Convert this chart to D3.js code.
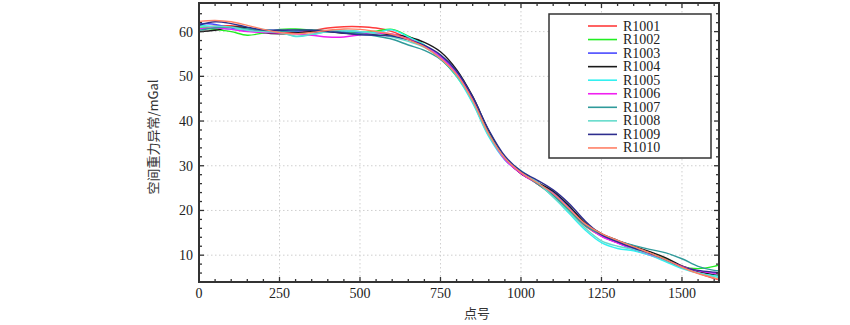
<!DOCTYPE html>
<html><head><meta charset="utf-8">
<script src="https://cdn.jsdelivr.net/npm/d3@7"></script>
<style>body{margin:0;background:#fff}svg{display:block}</style>
</head><body>
<svg id="c" width="850" height="325"></svg>
<script>
const xPoints = [0,50,100,150,200,250,300,350,400,450,500,550,600,650,700,750,800,850,900,950,1000,1050,1100,1150,1200,1250,1300,1350,1400,1450,1500,1550,1600,1615];
const seriesNames = ["R1001","R1002","R1003","R1004","R1005","R1006","R1007","R1008","R1009","R1010"];
const seriesColors = ["#ff3b3b","#22ee22","#4a4aff","#1a1a1a","#33f0f0","#f020f0","#2f9a9a","#66dccc","#2e2e8e","#ff8066"];
const R1001 = [60.8,61.2,61.3,60.8,60.0,59.8,59.8,60.2,60.8,61.1,61.1,60.8,60.0,58.5,56.8,54.0,50.5,44.2,36.8,31.5,28.3,26.0,23.2,19.8,16.5,14.3,12.8,11.5,10.2,8.8,7.2,6.0,4.8,4.5];
const R1002 = [61.0,60.5,60.0,59.2,59.7,60.5,60.6,60.3,60.0,59.8,59.8,60.1,60.5,59.0,57.0,54.0,50.0,44.5,37.0,31.6,28.5,26.0,23.5,20.0,16.8,14.3,12.8,11.6,10.4,9.2,7.5,7.0,7.5,7.8];
const R1003 = [61.8,61.6,60.8,60.2,60.2,60.3,60.0,59.8,60.0,60.2,59.8,59.4,59.0,58.2,56.8,54.5,50.8,45.0,37.2,31.4,28.4,26.2,24.0,20.8,17.0,14.3,12.8,11.2,10.0,8.8,7.2,6.4,6.0,5.8];
const R1004 = [60.0,60.3,61.0,60.8,59.8,59.5,59.7,60.0,60.0,59.6,59.4,59.4,59.3,58.8,57.6,55.5,51.5,45.5,37.8,31.8,28.2,26.3,24.3,21.0,17.2,14.8,13.3,12.0,10.8,9.4,7.6,6.4,5.6,5.5];
const R1005 = [61.5,61.0,60.5,60.6,60.5,60.0,58.9,59.3,60.0,60.2,60.0,59.8,60.4,58.8,57.0,54.0,50.0,44.0,36.5,31.3,28.5,26.2,23.0,19.3,15.6,12.8,11.5,11.0,10.0,8.5,7.0,6.0,5.4,5.3];
const R1006 = [60.6,60.8,60.5,60.0,59.8,59.7,59.5,59.2,58.8,58.8,59.3,59.6,59.5,58.3,56.8,54.3,50.6,44.8,37.0,31.4,28.3,26.0,23.6,20.2,16.7,14.2,12.7,11.4,10.2,8.9,7.5,6.5,6.0,5.9];
const R1007 = [60.3,60.8,61.0,60.6,60.2,60.0,60.2,60.4,60.2,59.8,59.5,59.0,58.3,57.0,55.8,53.8,50.2,44.6,37.3,31.8,28.6,26.0,23.4,20.0,16.6,14.6,13.2,12.2,11.3,10.5,9.2,7.5,6.6,6.5];
const R1008 = [61.0,61.2,61.0,60.3,60.0,59.8,59.0,59.4,60.0,60.3,60.0,59.5,58.8,57.8,56.5,54.0,50.3,44.3,36.8,31.8,28.9,26.4,23.0,19.6,16.0,13.2,12.0,11.3,10.3,8.8,7.2,6.0,5.2,5.0];
const R1009 = [61.4,62.2,61.8,61.0,60.4,60.3,60.4,60.3,60.0,59.7,59.3,59.2,59.0,58.2,56.9,54.8,51.2,45.4,38.0,32.2,28.8,26.8,24.6,21.5,17.6,14.6,13.0,11.6,10.4,9.0,7.4,6.6,6.2,6.1];
const R1010 = [62.3,62.5,62.2,61.4,60.5,59.8,59.5,59.8,60.3,60.6,60.5,60.0,59.4,58.2,56.6,54.0,50.4,44.6,37.1,31.7,28.5,26.2,23.8,20.4,17.0,14.8,13.3,11.9,10.5,9.0,7.3,5.9,4.9,4.6];
const seriesValues = [R1001,R1002,R1003,R1004,R1005,R1006,R1007,R1008,R1009,R1010];
const xTicks = [0,250,500,750,1000,1250,1500];
const yTicks = [10,20,30,40,50,60];
const xTitle = "点号";
const yTitle = "空间重力异常/mGal";

const svg = d3.select("#c");
const L = 199, R = 719, T = 3, B = 282;
const x = d3.scaleLinear().domain([0,1615]).range([L,R]);
const y = d3.scaleLinear().domain([4,66.4]).range([B,T]);

// grid
const g = svg.append("g");
g.selectAll("line.gx").data(xTicks.filter(d=>d>0)).join("line")
  .attr("x1",d=>x(d)).attr("x2",d=>x(d)).attr("y1",T).attr("y2",B)
  .attr("stroke","#cfcfcf").attr("stroke-width",1).attr("stroke-dasharray","1.5,2.5");
g.selectAll("line.gy").data(yTicks).join("line")
  .attr("y1",d=>y(d)).attr("y2",d=>y(d)).attr("x1",L).attr("x2",R)
  .attr("stroke","#cfcfcf").attr("stroke-width",1).attr("stroke-dasharray","1.5,2.5");

// clip
svg.append("clipPath").attr("id","clip").append("rect").attr("x",L).attr("y",T).attr("width",R-L).attr("height",B-T);

const line = d3.line().x((d,i)=>x(xPoints[i])).y(d=>y(d)).curve(d3.curveCatmullRom.alpha(0.5));
svg.append("g").attr("clip-path","url(#clip)").selectAll("path").data(seriesValues).join("path")
  .attr("d",d=>line(d)).attr("fill","none")
  .attr("stroke",(d,i)=>seriesColors[i]).attr("stroke-width",1.4);

// axes (inward ticks, mirrored)
const tc = "#333";
function ticks(vals, len, orient){
  const grp = svg.append("g").attr("stroke",tc).attr("stroke-width",1.3);
  vals.forEach(v=>{
    if(orient==="b") grp.append("line").attr("x1",x(v)).attr("x2",x(v)).attr("y1",B).attr("y2",B-len);
    if(orient==="t") grp.append("line").attr("x1",x(v)).attr("x2",x(v)).attr("y1",T).attr("y2",T+len);
    if(orient==="l") grp.append("line").attr("y1",y(v)).attr("y2",y(v)).attr("x1",L).attr("x2",L+len);
    if(orient==="r") grp.append("line").attr("y1",y(v)).attr("y2",y(v)).attr("x1",R).attr("x2",R-len);
  });
}
const xMinor = d3.range(50,1615,50).filter(v=>v%250!==0);
const yMinor = d3.range(6,66,2).filter(v=>v%10!==0);
["b","t"].forEach(o=>{ticks(xTicks.filter(d=>d>0),5,o);ticks(xMinor,3,o);});
["l","r"].forEach(o=>{ticks(yTicks,5,o);ticks(yMinor,3,o);});

svg.append("rect").attr("x",L).attr("y",T).attr("width",R-L).attr("height",B-T)
  .attr("fill","none").attr("stroke",tc).attr("stroke-width",2);

// tick labels
svg.append("g").selectAll("text").data(xTicks).join("text")
  .attr("x",d=>x(d)).attr("y",298).attr("text-anchor","middle")
  .attr("font-family","Liberation Serif, serif").attr("font-size",14).attr("fill","#222")
  .text(d=>d);
svg.append("g").selectAll("text").data(yTicks).join("text")
  .attr("x",193).attr("y",d=>y(d)+5).attr("text-anchor","end")
  .attr("font-family","Liberation Serif, serif").attr("font-size",14).attr("fill","#222")
  .text(d=>d);

svg.append("text").attr("x",477).attr("y",318).attr("text-anchor","middle")
  .attr("font-family","Noto Sans CJK SC, sans-serif").attr("font-size",13).attr("fill","#333").text(xTitle);
svg.append("text").attr("transform","translate(158,137) rotate(-90)").attr("text-anchor","middle")
  .attr("font-family","Noto Sans CJK SC, sans-serif").attr("font-size",13).attr("fill","#333").text(yTitle);

// legend
const lg = svg.append("g");
lg.append("rect").attr("x",549).attr("y",14).attr("width",162).attr("height",144)
  .attr("fill","#fff").attr("stroke","#333").attr("stroke-width",1.5);
seriesNames.forEach((n,i)=>{
  const yy = 26 + i*13.55;
  lg.append("line").attr("x1",588).attr("x2",617).attr("y1",yy).attr("y2",yy)
    .attr("stroke",seriesColors[i]).attr("stroke-width",1.6);
  lg.append("text").attr("x",623).attr("y",yy+4.5).attr("font-family","Liberation Serif, serif")
    .attr("font-size",14).attr("fill","#222").text(n);
});
</script>
</body></html>
